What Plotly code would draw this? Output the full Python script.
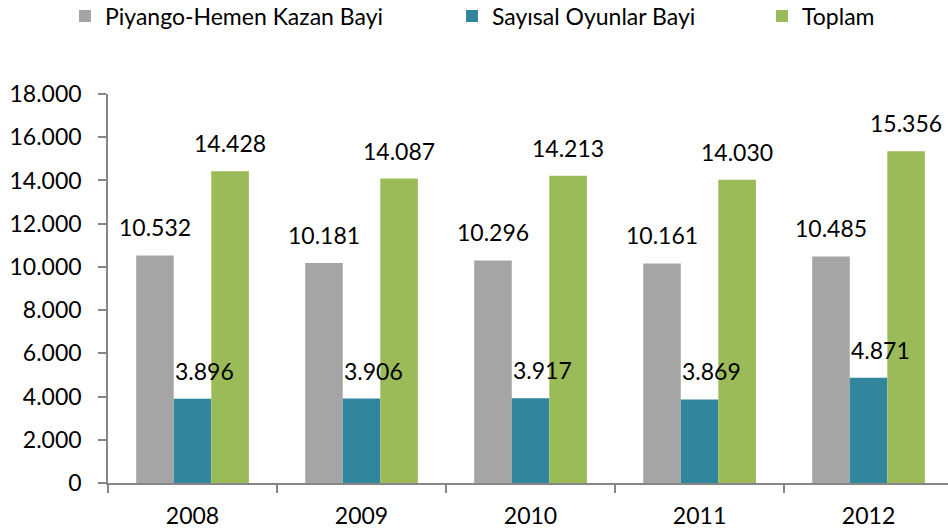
import plotly.graph_objects as go

years = ["2008", "2009", "2010", "2011", "2012"]
piyango = [10532, 10181, 10296, 10161, 10485]
sayisal = [3896, 3906, 3917, 3869, 4871]
toplam = [14428, 14087, 14213, 14030, 15356]

names = ["Piyango-Hemen Kazan Bayi", "Sayısal Oyunlar Bayi", "Toplam"]
colors = ["#A5A5A5", "#31859C", "#9BBB59"]
series = [piyango, sayisal, toplam]

FONT = "Lato"
FS = 23
W, H = 948, 532
legend_x = [65 / W, 452 / W, 762 / W]
label_xshift = [0, 12, 0]

fig = go.Figure()
legends = ["legend", "legend2", "legend3"]
for i, (nm, col, vals) in enumerate(zip(names, colors, series)):
    fig.add_trace(go.Bar(
        x=years, y=vals, name=nm, marker=dict(color=col, line=dict(width=0)),
        legend=legends[i], showlegend=True, hoverinfo="skip",
    ))

annotations = []
slot = 0.6667 / 3
for i, vals in enumerate(series):
    off = (i - 1) * slot
    for j, v in enumerate(vals):
        annotations.append(dict(
            x=j + off, y=v, xref="x", yref="y", text=f"{v:,}".replace(",", "."),
            showarrow=False, yanchor="bottom", xanchor="center", yshift=12,
            xshift=label_xshift[i],
            font=dict(family=FONT, size=FS, color="#000000"),
        ))

leg_y = 1 - 16 / H
leg_common = dict(orientation="h", xref="container", yref="container",
                  yanchor="middle", xanchor="left", bgcolor="rgba(0,0,0,0)",
                  font=dict(family=FONT, size=FS, color="#000000"))
fig.update_layout(
    width=W, height=H,
    margin=dict(l=108, r=0, t=94, b=49),
    paper_bgcolor="white", plot_bgcolor="white",
    barmode="group", bargap=0.3333, bargroupgap=0,
    separators=",.",
    showlegend=True,
    font=dict(family=FONT, size=FS, color="#000000"),
    legend=dict(x=legend_x[0], y=leg_y, **leg_common),
    legend2=dict(x=legend_x[1], y=leg_y, **leg_common),
    legend3=dict(x=legend_x[2], y=leg_y, **leg_common),
    annotations=annotations,
    xaxis=dict(type="category", range=[-0.5, 4.47], showline=True,
               linecolor="#868686", linewidth=1.5, ticks="outside",
               tickson="boundaries", ticklen=8, tickcolor="#868686",
               tickwidth=1.5, showgrid=False, zeroline=False,
               ticklabelstandoff=12,
               tickfont=dict(family=FONT, size=FS, color="#000000")),
    yaxis=dict(range=[0, 18000], tickvals=list(range(0, 18001, 2000)),
               tickformat=",d", showline=True, linecolor="#868686",
               linewidth=1.5, ticks="outside", ticklen=8, tickcolor="#868686",
               tickwidth=1.5, showgrid=False, zeroline=False,
               ticklabelstandoff=12,
               tickfont=dict(family=FONT, size=FS, color="#000000")),
)

fig.write_html("out.html", config={"displayModeBar": False},
               post_script="document.body.style.margin='0';document.body.style.overflow='hidden';")
